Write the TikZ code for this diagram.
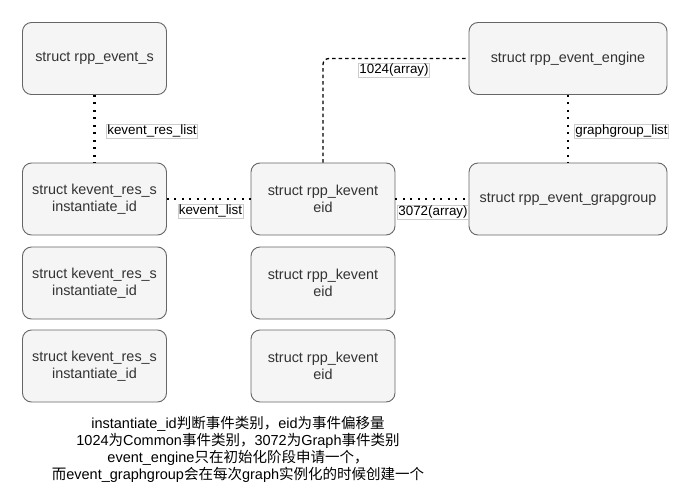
\documentclass[tikz,border=0pt]{standalone}
\usepackage{fontspec}
\setmainfont{Liberation Sans}
\newfontfamily\cjk{Noto Sans CJK SC}
\definecolor{boxfill}{HTML}{F5F5F5}
\definecolor{boxline}{HTML}{666666}
\definecolor{boxtext}{HTML}{333333}
\tikzset{
  sbox/.style={draw=boxline, fill=boxfill, rounded corners=9pt, line width=0.9pt,
    minimum width=144pt, minimum height=72pt, align=center, text=boxtext,
    font=\fontsize{14.4}{17}\selectfont, inner sep=1pt},
  widebox/.style={sbox, minimum width=198pt},
  dotline/.style={line width=2.2pt, dash pattern=on 2pt off 5.5pt},
  dashline/.style={line width=1.3pt, dash pattern=on 3.5pt off 3pt, rounded corners=6pt},
  lbl/.style={fill=white, draw=black!20, line width=0.4pt, inner sep=0.8pt,
    font=\fontsize{13.4}{15}\selectfont, text=black},
  note/.style={align=center, font=\fontsize{14.5}{17}\selectfont, text=black}
}
\begin{document}
\begin{tikzpicture}[x=1pt,y=-1pt]
\useasboundingbox (0,0) rectangle (690,490);
\node[sbox] (A) at (94.5,58.5) {struct rpp\_event\_s};
\node[widebox] (B) at (568,58.5) {struct rpp\_event\_engine};
\node[sbox] (C1) at (94.5,199) {struct kevent\_res\_s\\instantiate\_id};
\node[sbox] (C2) at (94.5,283) {struct kevent\_res\_s\\instantiate\_id};
\node[sbox] (C3) at (94.5,366) {struct kevent\_res\_s\\instantiate\_id};
\node[sbox] (D1) at (323,199) {struct rpp\_kevent\\eid};
\node[sbox] (D2) at (323,283) {struct rpp\_kevent\\eid};
\node[sbox] (D3) at (323,366) {struct rpp\_kevent\\eid};
\node[widebox] (E) at (568,199) {struct rpp\_event\_grapgroup};

\draw[dotline] (A.south) -- (C1.north);
\draw[dotline] (C1.east) -- (D1.west);
\draw[dotline] (D1.east) -- (E.west);
\draw[dotline] (B.south) -- (E.north);
\draw[dashline] (D1.north) |- (B.west);

\node[lbl] (l1) at (152,131) {kevent\_res\_list};
\node[lbl] (l2) at (210.5,211) {kevent\_list};
\node[lbl] (l3) at (394,70) {1024(array)};
\node[lbl] (l4) at (433,212) {3072(array)};
\node[lbl] (l5) at (621.5,131) {graphgroup\_list};

\node[note] (N) at (238,449.5) {instantiate\_id{\cjk 判断事件类别，}eid{\cjk 为事件偏移量}\\
1024{\cjk 为}Common{\cjk 事件类别，}3072{\cjk 为}Graph{\cjk 事件类别}\\
event\_engine{\cjk 只在初始化阶段申请一个，}\\
{\cjk 而}event\_graphgroup{\cjk 会在每次}graph{\cjk 实例化的时候创建一个}};
\end{tikzpicture}
\end{document}
